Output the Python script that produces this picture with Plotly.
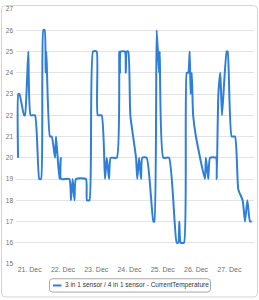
import plotly.graph_objects as go

times = [
    "2023-12-20 15:36", "2023-12-20 15:48", "2023-12-20 16:36", "2023-12-20 19:54",
    "2023-12-20 20:36", "2023-12-20 23:00", "2023-12-21 00:42", "2023-12-21 03:48",
    "2023-12-21 06:54", "2023-12-21 08:12", "2023-12-21 09:48", "2023-12-21 10:48",
    "2023-12-21 11:30", "2023-12-21 12:00", "2023-12-21 14:36", "2023-12-21 15:54",
    "2023-12-21 18:18", "2023-12-21 19:00", "2023-12-21 21:24", "2023-12-21 22:24",
    "2023-12-21 22:36", "2023-12-22 04:36", "2023-12-22 05:48", "2023-12-22 07:00",
    "2023-12-22 08:18", "2023-12-22 09:24", "2023-12-22 16:36", "2023-12-22 17:18",
    "2023-12-22 19:06", "2023-12-22 21:42", "2023-12-23 00:18", "2023-12-23 01:06",
    "2023-12-23 03:54", "2023-12-23 06:18", "2023-12-23 07:36", "2023-12-23 09:12",
    "2023-12-23 10:24", "2023-12-23 14:48", "2023-12-23 16:36", "2023-12-23 17:06",
    "2023-12-23 17:36", "2023-12-23 20:42", "2023-12-23 21:18", "2023-12-23 22:00",
    "2023-12-23 23:06", "2023-12-24 00:36", "2023-12-24 04:42", "2023-12-24 05:36",
    "2023-12-24 06:54", "2023-12-24 08:18", "2023-12-24 09:12", "2023-12-24 12:24",
    "2023-12-24 17:12", "2023-12-24 17:54", "2023-12-24 19:36", "2023-12-24 21:18",
    "2023-12-24 21:48", "2023-12-25 00:24", "2023-12-25 04:30", "2023-12-25 10:00",
    "2023-12-25 11:12", "2023-12-25 11:54", "2023-12-25 12:54", "2023-12-25 15:18",
    "2023-12-25 17:18", "2023-12-25 18:24", "2023-12-25 19:24", "2023-12-25 20:06",
    "2023-12-25 20:54", "2023-12-25 21:54", "2023-12-25 23:54", "2023-12-26 06:24",
    "2023-12-26 07:06", "2023-12-26 08:48", "2023-12-26 10:06", "2023-12-26 14:24",
    "2023-12-26 14:54", "2023-12-26 16:06", "2023-12-26 17:30", "2023-12-26 18:42",
    "2023-12-26 22:06", "2023-12-26 22:48", "2023-12-27 01:42", "2023-12-27 04:06",
    "2023-12-27 06:30", "2023-12-27 09:36", "2023-12-27 11:18", "2023-12-27 13:00",
    "2023-12-27 14:54", "2023-12-27 16:12",
]
temperature = [
    20, 23, 23, 22,
    22, 25, 22, 22,
    19, 19, 26, 26,
    24, 25, 21, 21,
    20, 21, 19, 20,
    19, 19, 18, 19,
    18, 19, 19, 18,
    18, 25, 25, 22,
    22, 19, 20, 19,
    20, 20, 25, 24,
    25, 25, 24, 25,
    25, 22, 20, 19,
    20, 19, 20, 20,
    17, 17, 26, 24,
    25, 20, 20, 16,
    16, 17, 16, 16,
    24, 24, 25, 23,
    24, 22, 21, 19,
    20, 19, 20, 20,
    19, 23, 24, 22,
    25, 25, 21, 21,
    18.5, 18, 17, 18,
    17, 17,
]
series_name = "3 in 1 sensor / 4 in 1 sensor - CurrentTemperature"
x_range = ["2023-12-20 14:07", "2023-12-27 17:48"]
y_range = [15, 27]
line_color = "#2f7ed8"

fig = go.Figure()
fig.add_trace(go.Scatter(
    x=times, y=temperature, mode="lines", name=series_name, showlegend=False,
    line=dict(color=line_color, width=2, shape="spline", smoothing=0.5),
))

W, H = 259, 300
ml, mr, mt, mb = 16, 5, 5, 36
pw, ph = W - ml - mr, H - mt - mb

def px(x):
    return (x - ml) / pw

def py(y):
    return (H - mb - y) / ph

def rounded(xa, ya, xb, yb, r):
    x0, x1, y0, y1 = px(xa), px(xb), py(yb), py(ya)
    rx, ry = r / pw, r / ph
    return (f"M {x0+rx},{y1} L {x1-rx},{y1} Q {x1},{y1} {x1},{y1-ry} "
            f"L {x1},{y0+ry} Q {x1},{y0} {x1-rx},{y0} L {x0+rx},{y0} "
            f"Q {x0},{y0} {x0},{y0+ry} L {x0},{y1-ry} Q {x0},{y1} {x0+rx},{y1} Z")

# outer frame
fig.add_shape(type="path", path=rounded(1.5, 1.5, 257.5, 297.5, 4),
              xref="paper", yref="paper",
              line=dict(color="#d4d4d4", width=1), layer="below")

# legend box
fig.add_shape(type="path", path=rounded(49.5, 279, 210.5, 292.5, 3),
              xref="paper", yref="paper",
              line=dict(color="#a8a8a8", width=1), fillcolor="white", layer="below")
fig.add_shape(type="line", x0=px(53), x1=px(61.5), y0=py(285.8), y1=py(285.8),
              xref="paper", yref="paper", line=dict(color=line_color, width=2))
fig.add_annotation(text=series_name, x=px(63), y=py(285.8), xref="paper", yref="paper",
                   xanchor="left", yanchor="middle", showarrow=False,
                   font=dict(size=6.5, color="#333333"))

fig.update_layout(
    width=W, height=H,
    margin=dict(l=ml, r=mr, t=mt, b=mb),
    paper_bgcolor="white", plot_bgcolor="white",
    font=dict(family="Liberation Sans, Arial, sans-serif", size=7, color="#606060"),
    showlegend=False,
    xaxis=dict(
        type="date", range=x_range, showgrid=False,
        tickformat="%-d. %b", dtick=86400000, tick0="2023-12-21",
        ticks="", showline=False, zeroline=False,
        tickfont=dict(size=7, color="#707070"),
    ),
    yaxis=dict(
        range=y_range, dtick=1, tick0=15, showgrid=True, gridcolor="#e3e3e3",
        gridwidth=1, zeroline=False, showline=False, ticks="",
        tickfont=dict(size=6.5, color="#707070"), ticklabelstandoff=2,
    ),
)

fig.write_html("out.html")
